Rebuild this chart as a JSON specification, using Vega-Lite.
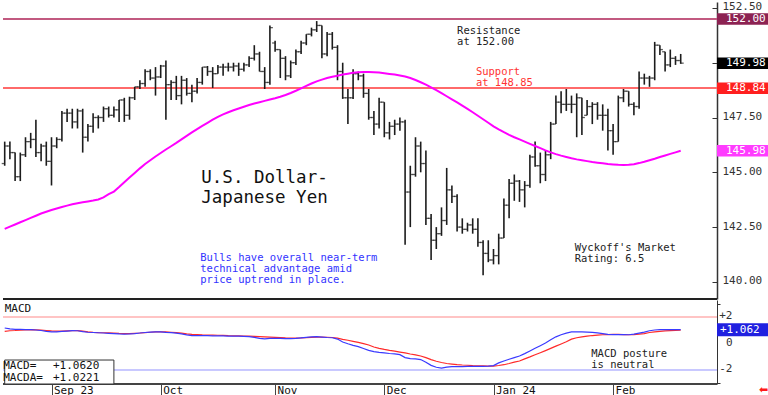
{
  "$schema": "https://vega.github.io/schema/vega-lite/v6.json",
  "padding": 0,
  "spacing": 0,
  "background": "white",
  "config": {"view": {"stroke": null}, "font": "DejaVu Sans Mono"},
  "datasets": {
    "px": [
      {"date":"2023-08-21","open":145.4,"high":146.4,"low":145.3,"close":146.2,"ma":142.42,"macd":1.19,"signal":0.94},
      {"date":"2023-08-22","open":146.2,"high":146.4,"low":145.6,"close":145.9,"ma":142.52,"macd":1.12,"signal":0.98},
      {"date":"2023-08-23","open":145.9,"high":145.9,"low":144.6,"close":144.8,"ma":142.62,"macd":1.09,"signal":1.0},
      {"date":"2023-08-24","open":144.8,"high":145.9,"low":144.6,"close":145.8,"ma":142.72,"macd":1.08,"signal":1.03},
      {"date":"2023-08-25","open":145.8,"high":146.6,"low":145.7,"close":146.4,"ma":142.82,"macd":1.07,"signal":1.05},
      {"date":"2023-08-28","open":146.4,"high":146.8,"low":146.1,"close":146.5,"ma":142.92,"macd":1.06,"signal":1.06},
      {"date":"2023-08-29","open":146.5,"high":147.4,"low":145.7,"close":145.9,"ma":143.02,"macd":1.04,"signal":1.05},
      {"date":"2023-08-30","open":145.9,"high":146.3,"low":145.5,"close":146.2,"ma":143.12,"macd":1.0,"signal":1.03},
      {"date":"2023-08-31","open":146.2,"high":146.4,"low":145.3,"close":145.5,"ma":143.2,"macd":0.94,"signal":1.0},
      {"date":"2023-09-01","open":145.5,"high":146.6,"low":144.4,"close":146.2,"ma":143.28,"macd":0.89,"signal":0.97},
      {"date":"2023-09-04","open":146.2,"high":146.6,"low":146.1,"close":146.5,"ma":143.35,"macd":0.9,"signal":0.96},
      {"date":"2023-09-05","open":146.5,"high":147.8,"low":146.4,"close":147.7,"ma":143.42,"macd":0.93,"signal":0.96},
      {"date":"2023-09-06","open":147.7,"high":147.9,"low":147.3,"close":147.7,"ma":143.48,"macd":0.96,"signal":0.97},
      {"date":"2023-09-07","open":147.7,"high":147.9,"low":147.0,"close":147.3,"ma":143.54,"macd":0.99,"signal":0.98},
      {"date":"2023-09-08","open":147.3,"high":147.9,"low":147.0,"close":147.8,"ma":143.59,"macd":0.98,"signal":0.99},
      {"date":"2023-09-11","open":147.8,"high":147.9,"low":145.9,"close":146.6,"ma":143.63,"macd":0.92,"signal":0.96},
      {"date":"2023-09-12","open":146.6,"high":147.2,"low":146.4,"close":147.1,"ma":143.67,"macd":0.87,"signal":0.9},
      {"date":"2023-09-13","open":147.1,"high":147.7,"low":146.8,"close":147.5,"ma":143.71,"macd":0.85,"signal":0.86},
      {"date":"2023-09-14","open":147.5,"high":147.6,"low":147.0,"close":147.5,"ma":143.76,"macd":0.83,"signal":0.84},
      {"date":"2023-09-15","open":147.5,"high":148.0,"low":147.3,"close":147.9,"ma":143.86,"macd":0.81,"signal":0.83},
      {"date":"2023-09-18","open":147.9,"high":148.0,"low":147.5,"close":147.6,"ma":144.0,"macd":0.79,"signal":0.82},
      {"date":"2023-09-19","open":147.6,"high":148.0,"low":147.5,"close":147.85,"ma":144.12,"macd":0.77,"signal":0.8},
      {"date":"2023-09-20","open":147.85,"high":148.3,"low":147.3,"close":148.3,"ma":144.33,"macd":0.74,"signal":0.78},
      {"date":"2023-09-21","open":148.3,"high":148.4,"low":147.3,"close":147.6,"ma":144.55,"macd":0.73,"signal":0.77},
      {"date":"2023-09-22","open":147.6,"high":148.45,"low":147.4,"close":148.4,"ma":144.76,"macd":0.74,"signal":0.77},
      {"date":"2023-09-25","open":148.4,"high":148.9,"low":148.3,"close":148.9,"ma":144.97,"macd":0.77,"signal":0.79},
      {"date":"2023-09-26","open":148.9,"high":149.2,"low":148.8,"close":149.05,"ma":145.18,"macd":0.81,"signal":0.81},
      {"date":"2023-09-27","open":149.05,"high":149.7,"low":148.9,"close":149.6,"ma":145.38,"macd":0.85,"signal":0.84},
      {"date":"2023-09-28","open":149.6,"high":149.7,"low":149.2,"close":149.3,"ma":145.55,"macd":0.88,"signal":0.87},
      {"date":"2023-09-29","open":149.3,"high":149.8,"low":148.5,"close":149.35,"ma":145.72,"macd":0.89,"signal":0.89},
      {"date":"2023-10-02","open":149.35,"high":149.9,"low":149.3,"close":149.85,"ma":145.88,"macd":0.89,"signal":0.9},
      {"date":"2023-10-03","open":149.85,"high":150.1,"low":147.4,"close":149.0,"ma":146.04,"macd":0.86,"signal":0.89},
      {"date":"2023-10-04","open":149.0,"high":149.2,"low":148.3,"close":149.1,"ma":146.19,"macd":0.84,"signal":0.87},
      {"date":"2023-10-05","open":149.1,"high":149.4,"low":148.3,"close":148.5,"ma":146.34,"macd":0.8,"signal":0.84},
      {"date":"2023-10-06","open":148.5,"high":149.4,"low":148.1,"close":149.2,"ma":146.5,"macd":0.74,"signal":0.8},
      {"date":"2023-10-09","open":149.2,"high":149.3,"low":148.5,"close":148.6,"ma":146.66,"macd":0.67,"signal":0.75},
      {"date":"2023-10-10","open":148.6,"high":149.0,"low":148.2,"close":148.7,"ma":146.82,"macd":0.62,"signal":0.71},
      {"date":"2023-10-11","open":148.7,"high":149.3,"low":148.6,"close":149.1,"ma":146.97,"macd":0.61,"signal":0.69},
      {"date":"2023-10-12","open":149.1,"high":149.8,"low":149.0,"close":149.8,"ma":147.12,"macd":0.61,"signal":0.67},
      {"date":"2023-10-13","open":149.8,"high":149.85,"low":149.4,"close":149.6,"ma":147.26,"macd":0.61,"signal":0.66},
      {"date":"2023-10-16","open":149.6,"high":149.8,"low":148.85,"close":149.5,"ma":147.4,"macd":0.6,"signal":0.65},
      {"date":"2023-10-17","open":149.5,"high":149.9,"low":149.5,"close":149.8,"ma":147.53,"macd":0.6,"signal":0.64},
      {"date":"2023-10-18","open":149.8,"high":149.95,"low":149.4,"close":149.8,"ma":147.64,"macd":0.59,"signal":0.63},
      {"date":"2023-10-19","open":149.8,"high":150.0,"low":149.6,"close":149.8,"ma":147.74,"macd":0.58,"signal":0.61},
      {"date":"2023-10-20","open":149.8,"high":150.0,"low":149.6,"close":149.85,"ma":147.83,"macd":0.58,"signal":0.6},
      {"date":"2023-10-23","open":149.85,"high":150.0,"low":149.4,"close":149.7,"ma":147.91,"macd":0.57,"signal":0.59},
      {"date":"2023-10-24","open":149.7,"high":150.0,"low":149.6,"close":149.9,"ma":147.99,"macd":0.55,"signal":0.58},
      {"date":"2023-10-25","open":149.9,"high":150.3,"low":149.8,"close":150.2,"ma":148.07,"macd":0.53,"signal":0.57},
      {"date":"2023-10-26","open":150.2,"high":150.8,"low":150.1,"close":150.4,"ma":148.14,"macd":0.48,"signal":0.56},
      {"date":"2023-10-27","open":150.4,"high":150.5,"low":149.6,"close":149.6,"ma":148.2,"macd":0.4,"signal":0.54},
      {"date":"2023-10-30","open":149.6,"high":149.8,"low":148.8,"close":149.1,"ma":148.26,"macd":0.36,"signal":0.52},
      {"date":"2023-10-31","open":149.1,"high":151.7,"low":149.0,"close":151.6,"ma":148.32,"macd":0.4,"signal":0.5},
      {"date":"2023-11-01","open":150.9,"high":151.0,"low":150.5,"close":150.6,"ma":148.38,"macd":0.41,"signal":0.48},
      {"date":"2023-11-02","open":150.6,"high":150.6,"low":149.3,"close":150.2,"ma":148.45,"macd":0.4,"signal":0.46},
      {"date":"2023-11-03","open":150.2,"high":150.3,"low":149.2,"close":149.4,"ma":148.53,"macd":0.38,"signal":0.44},
      {"date":"2023-11-06","open":149.4,"high":150.1,"low":149.3,"close":150.0,"ma":148.62,"macd":0.38,"signal":0.43},
      {"date":"2023-11-07","open":150.0,"high":150.6,"low":149.9,"close":150.5,"ma":148.72,"macd":0.4,"signal":0.43},
      {"date":"2023-11-08","open":150.5,"high":151.0,"low":150.4,"close":150.9,"ma":148.83,"macd":0.44,"signal":0.44},
      {"date":"2023-11-09","open":150.9,"high":151.3,"low":150.8,"close":151.3,"ma":148.94,"macd":0.48,"signal":0.46},
      {"date":"2023-11-10","open":151.3,"high":151.6,"low":151.2,"close":151.5,"ma":149.05,"macd":0.52,"signal":0.48},
      {"date":"2023-11-13","open":151.5,"high":151.9,"low":151.4,"close":151.7,"ma":149.15,"macd":0.53,"signal":0.5},
      {"date":"2023-11-14","open":151.7,"high":151.7,"low":150.2,"close":150.4,"ma":149.23,"macd":0.5,"signal":0.5},
      {"date":"2023-11-15","open":150.4,"high":151.4,"low":150.3,"close":151.3,"ma":149.3,"macd":0.47,"signal":0.49},
      {"date":"2023-11-16","open":151.3,"high":151.4,"low":150.6,"close":150.7,"ma":149.36,"macd":0.45,"signal":0.47},
      {"date":"2023-11-17","open":150.7,"high":150.8,"low":149.2,"close":149.6,"ma":149.41,"macd":0.35,"signal":0.42},
      {"date":"2023-11-20","open":149.6,"high":150.0,"low":148.35,"close":148.4,"ma":149.46,"macd":0.13,"signal":0.33},
      {"date":"2023-11-21","open":148.4,"high":148.8,"low":147.2,"close":148.4,"ma":149.5,"macd":0.0,"signal":0.26},
      {"date":"2023-11-22","open":148.4,"high":149.7,"low":148.35,"close":149.5,"ma":149.54,"macd":-0.12,"signal":0.18},
      {"date":"2023-11-24","open":149.5,"high":149.6,"low":149.2,"close":149.4,"ma":149.57,"macd":-0.22,"signal":0.1},
      {"date":"2023-11-27","open":149.4,"high":149.5,"low":148.4,"close":148.6,"ma":149.58,"macd":-0.36,"signal":0.01},
      {"date":"2023-11-28","open":148.6,"high":148.8,"low":147.4,"close":147.5,"ma":149.58,"macd":-0.5,"signal":-0.1},
      {"date":"2023-11-29","open":147.5,"high":147.8,"low":146.7,"close":147.2,"ma":149.57,"macd":-0.6,"signal":-0.25},
      {"date":"2023-11-30","open":147.2,"high":148.4,"low":147.0,"close":148.2,"ma":149.55,"macd":-0.66,"signal":-0.35},
      {"date":"2023-12-01","open":148.2,"high":148.2,"low":146.6,"close":146.8,"ma":149.52,"macd":-0.7,"signal":-0.43},
      {"date":"2023-12-04","open":146.8,"high":147.3,"low":146.5,"close":147.1,"ma":149.49,"macd":-0.74,"signal":-0.5},
      {"date":"2023-12-05","open":147.1,"high":147.4,"low":146.7,"close":147.2,"ma":149.46,"macd":-0.77,"signal":-0.56},
      {"date":"2023-12-06","open":147.2,"high":147.5,"low":146.9,"close":147.3,"ma":149.42,"macd":-0.83,"signal":-0.63},
      {"date":"2023-12-07","open":147.3,"high":147.4,"low":141.7,"close":144.1,"ma":149.37,"macd":-1.05,"signal":-0.7},
      {"date":"2023-12-08","open":144.1,"high":145.3,"low":142.5,"close":144.9,"ma":149.3,"macd":-1.13,"signal":-0.78},
      {"date":"2023-12-11","open":144.9,"high":146.6,"low":144.8,"close":146.2,"ma":149.21,"macd":-1.15,"signal":-0.84},
      {"date":"2023-12-12","open":146.2,"high":146.4,"low":145.0,"close":145.4,"ma":149.11,"macd":-1.2,"signal":-0.93},
      {"date":"2023-12-13","open":145.4,"high":146.0,"low":142.6,"close":142.9,"ma":149.0,"macd":-1.4,"signal":-1.05},
      {"date":"2023-12-14","open":142.9,"high":143.1,"low":141.0,"close":141.9,"ma":148.88,"macd":-1.64,"signal":-1.2},
      {"date":"2023-12-15","open":141.9,"high":142.5,"low":141.5,"close":142.2,"ma":148.75,"macd":-1.78,"signal":-1.33},
      {"date":"2023-12-18","open":142.2,"high":143.4,"low":142.1,"close":142.8,"ma":148.61,"macd":-1.84,"signal":-1.42},
      {"date":"2023-12-19","open":142.8,"high":145.2,"low":142.6,"close":144.2,"ma":148.47,"macd":-1.77,"signal":-1.5},
      {"date":"2023-12-20","open":144.2,"high":144.4,"low":143.6,"close":143.9,"ma":148.33,"macd":-1.74,"signal":-1.54},
      {"date":"2023-12-21","open":143.9,"high":144.0,"low":142.3,"close":142.5,"ma":148.19,"macd":-1.73,"signal":-1.58},
      {"date":"2023-12-22","open":142.5,"high":142.9,"low":142.2,"close":142.4,"ma":148.04,"macd":-1.73,"signal":-1.61},
      {"date":"2023-12-25","open":142.4,"high":142.7,"low":142.3,"close":142.6,"ma":147.89,"macd":-1.72,"signal":-1.63},
      {"date":"2023-12-26","open":142.6,"high":142.9,"low":142.2,"close":142.4,"ma":147.74,"macd":-1.72,"signal":-1.66},
      {"date":"2023-12-27","open":142.4,"high":142.9,"low":141.6,"close":141.8,"ma":147.58,"macd":-1.71,"signal":-1.67},
      {"date":"2023-12-28","open":141.8,"high":141.9,"low":140.3,"close":141.3,"ma":147.42,"macd":-1.71,"signal":-1.68},
      {"date":"2023-12-29","open":141.3,"high":141.9,"low":140.9,"close":141.0,"ma":147.26,"macd":-1.7,"signal":-1.69},
      {"date":"2024-01-01","open":141.0,"high":141.5,"low":140.8,"close":141.2,"ma":147.1,"macd":-1.66,"signal":-1.69},
      {"date":"2024-01-02","open":141.2,"high":142.2,"low":140.8,"close":142.0,"ma":146.96,"macd":-1.45,"signal":-1.65},
      {"date":"2024-01-03","open":142.0,"high":143.8,"low":142.0,"close":143.5,"ma":146.83,"macd":-1.31,"signal":-1.59},
      {"date":"2024-01-04","open":143.5,"high":144.7,"low":142.9,"close":144.5,"ma":146.71,"macd":-1.18,"signal":-1.5},
      {"date":"2024-01-05","open":144.5,"high":144.9,"low":143.7,"close":144.6,"ma":146.6,"macd":-1.05,"signal":-1.4},
      {"date":"2024-01-08","open":144.6,"high":144.65,"low":143.65,"close":144.2,"ma":146.5,"macd":-0.93,"signal":-1.31},
      {"date":"2024-01-09","open":144.2,"high":144.6,"low":143.4,"close":144.4,"ma":146.4,"macd":-0.75,"signal":-1.15},
      {"date":"2024-01-10","open":144.4,"high":145.8,"low":144.3,"close":145.7,"ma":146.3,"macd":-0.55,"signal":-1.0},
      {"date":"2024-01-11","open":145.7,"high":146.4,"low":145.25,"close":145.3,"ma":146.2,"macd":-0.35,"signal":-0.84},
      {"date":"2024-01-12","open":145.3,"high":145.9,"low":144.5,"close":144.9,"ma":146.1,"macd":-0.15,"signal":-0.68},
      {"date":"2024-01-15","open":144.9,"high":146.0,"low":144.6,"close":145.8,"ma":146.0,"macd":0.05,"signal":-0.52},
      {"date":"2024-01-16","open":145.8,"high":147.3,"low":145.6,"close":147.2,"ma":145.91,"macd":0.3,"signal":-0.35},
      {"date":"2024-01-17","open":147.2,"high":148.5,"low":147.2,"close":148.2,"ma":145.83,"macd":0.52,"signal":-0.18},
      {"date":"2024-01-18","open":148.2,"high":148.7,"low":147.7,"close":148.1,"ma":145.76,"macd":0.68,"signal":-0.02},
      {"date":"2024-01-19","open":148.1,"high":148.8,"low":147.8,"close":148.1,"ma":145.7,"macd":0.8,"signal":0.15},
      {"date":"2024-01-22","open":148.1,"high":148.5,"low":147.7,"close":148.1,"ma":145.64,"macd":0.89,"signal":0.35},
      {"date":"2024-01-23","open":148.1,"high":148.6,"low":146.6,"close":148.4,"ma":145.59,"macd":0.9,"signal":0.45},
      {"date":"2024-01-24","open":148.4,"high":148.4,"low":146.7,"close":147.5,"ma":145.55,"macd":0.9,"signal":0.52},
      {"date":"2024-01-25","open":147.6,"high":148.3,"low":147.6,"close":148.0,"ma":145.51,"macd":0.88,"signal":0.58},
      {"date":"2024-01-26","open":148.0,"high":148.2,"low":147.2,"close":148.1,"ma":145.47,"macd":0.86,"signal":0.62},
      {"date":"2024-01-29","open":148.1,"high":148.2,"low":147.4,"close":147.6,"ma":145.44,"macd":0.82,"signal":0.65},
      {"date":"2024-01-30","open":147.6,"high":148.1,"low":146.9,"close":147.6,"ma":145.41,"macd":0.77,"signal":0.68},
      {"date":"2024-01-31","open":147.6,"high":147.9,"low":146.0,"close":146.9,"ma":145.38,"macd":0.71,"signal":0.69},
      {"date":"2024-02-01","open":146.9,"high":147.2,"low":145.8,"close":146.4,"ma":145.36,"macd":0.69,"signal":0.7},
      {"date":"2024-02-02","open":146.4,"high":148.5,"low":146.4,"close":148.4,"ma":145.34,"macd":0.69,"signal":0.7},
      {"date":"2024-02-05","open":148.4,"high":148.8,"low":148.2,"close":148.7,"ma":145.33,"macd":0.69,"signal":0.69},
      {"date":"2024-02-06","open":148.7,"high":148.7,"low":148.0,"close":148.1,"ma":145.34,"macd":0.68,"signal":0.68},
      {"date":"2024-02-07","open":148.1,"high":148.2,"low":147.6,"close":148.0,"ma":145.37,"macd":0.72,"signal":0.69},
      {"date":"2024-02-08","open":148.0,"high":149.6,"low":147.9,"close":149.3,"ma":145.42,"macd":0.8,"signal":0.72},
      {"date":"2024-02-09","open":149.3,"high":149.5,"low":149.0,"close":149.3,"ma":145.48,"macd":0.88,"signal":0.77},
      {"date":"2024-02-12","open":149.3,"high":149.4,"low":148.9,"close":149.3,"ma":145.55,"macd":0.98,"signal":0.85},
      {"date":"2024-02-13","open":149.3,"high":150.95,"low":149.2,"close":150.8,"ma":145.62,"macd":1.04,"signal":0.9},
      {"date":"2024-02-14","open":150.8,"high":150.8,"low":150.35,"close":150.6,"ma":145.7,"macd":1.06,"signal":0.94},
      {"date":"2024-02-15","open":150.5,"high":150.5,"low":149.6,"close":149.9,"ma":145.77,"macd":1.06,"signal":0.97},
      {"date":"2024-02-16","open":149.9,"high":150.6,"low":149.8,"close":150.2,"ma":145.84,"macd":1.07,"signal":0.99},
      {"date":"2024-02-19","open":150.2,"high":150.3,"low":149.9,"close":150.1,"ma":145.91,"macd":1.06,"signal":1.01},
      {"date":"2024-02-20","open":150.1,"high":150.4,"low":149.95,"close":149.98,"ma":145.98,"macd":1.062,"signal":1.022}
    ],
    "tags": [
      {"kind":"Resistance","value":152.0,"label":"152.00"},
      {"kind":"Close","value":149.98,"label":"149.98"},
      {"kind":"Support","value":148.84,"label":"148.84"},
      {"kind":"MA","value":145.98,"label":"145.98"}
    ]
  },
  "vconcat": [
    {
      "width": 714,
      "height": 297,
      "data": {"name": "px"},
      "layer": [
        {
          "mark": {"type": "rule", "color": "#c25a80", "strokeWidth": 1.2},
          "encoding": {"y": {"datum": 152.0, "type": "quantitative", "scale": {"domain": [139.22, 152.77], "nice": false, "zero": false},
            "axis": {"orient": "right", "values": [140, 142.5, 145, 147.5, 150, 152.5],
              "labelExpr": "datum.value == 150 ? '' : format(datum.value, '.2f')", "labelOverlap": false,
              "title": null, "grid": false, "labelOffset": -1,
              "domainColor": "#333", "domainWidth": 1.5, "tickColor": "#333", "tickSize": -5, "labelPadding": 10,
              "labelFont": "DejaVu Sans Mono", "labelFontSize": 11, "labelColor": "#333"}}}
        },
        {
          "mark": {"type": "rule", "color": "#ff6a6a", "strokeWidth": 1.5},
          "encoding": {"y": {"datum": 148.84, "type": "quantitative"}}
        },
        {
          "mark": {"type": "rule", "color": "#222", "strokeWidth": 2},
          "encoding": {"y": {"datum": 139.22, "type": "quantitative"}}
        },
        {
          "mark": {"type": "rule", "color": "#1c1c1c", "strokeWidth": 1.6},
          "encoding": {
            "x": {"field": "date", "type": "ordinal", "scale": {"type": "point", "padding": 0, "range": [1.7, 677.7]}, "axis": null},
            "y": {"field": "low", "type": "quantitative"},
            "y2": {"field": "high"}
          }
        },
        {
          "mark": {"type": "tick", "orient": "horizontal", "size": 3, "thickness": 1.3, "xOffset": -1.5, "color": "#1c1c1c"},
          "encoding": {"x": {"field": "date", "type": "ordinal"}, "y": {"field": "open", "type": "quantitative"}}
        },
        {
          "mark": {"type": "tick", "orient": "horizontal", "size": 3, "thickness": 1.3, "xOffset": 1.5, "color": "#1c1c1c"},
          "encoding": {"x": {"field": "date", "type": "ordinal"}, "y": {"field": "close", "type": "quantitative"}}
        },
        {
          "mark": {"type": "line", "color": "#ff00ff", "strokeWidth": 2},
          "encoding": {"x": {"field": "date", "type": "ordinal"}, "y": {"field": "ma", "type": "quantitative"}}
        },
        {
          "data": {"name": "tags"},
          "mark": {"type": "rule", "strokeWidth": 11.5, "x2Offset": 54},
          "encoding": {
            "x": {"value": "width"}, "x2": {"value": "width"},
            "y": {"field": "value", "type": "quantitative"},
            "color": {"field": "kind", "type": "nominal", "scale": {"domain": ["Resistance", "Close", "Support", "MA"], "range": ["#8c2252", "#000000", "#ff1f1f", "#ff3cff"]}, "legend": null}
          }
        },
        {
          "data": {"name": "tags"},
          "mark": {"type": "text", "align": "left", "baseline": "middle", "dx": 9, "color": "white", "font": "DejaVu Sans Mono", "fontSize": 11},
          "encoding": {"x": {"value": "width"}, "y": {"field": "value", "type": "quantitative"}, "text": {"field": "label"}}
        },
        {
          "data": {"values": [{"date": "2023-10-12", "price": 145.15, "note": "U.S. Dollar-\nJapanese Yen"}]},
          "mark": {"type": "text", "align": "left", "baseline": "top", "dx": -1, "lineBreak": "\n", "lineHeight": 20, "font": "DejaVu Sans Mono", "fontSize": 17.5, "color": "#111"},
          "encoding": {"x": {"field": "date", "type": "ordinal"}, "y": {"field": "price", "type": "quantitative"}, "text": {"field": "note"}}
        },
        {
          "data": {"values": [{"date": "2023-12-21", "price": 151.66, "note": "Resistance\nat 152.00"}]},
          "mark": {"type": "text", "align": "left", "baseline": "top", "lineBreak": "\n", "lineHeight": 11, "font": "DejaVu Sans Mono", "fontSize": 10.5, "color": "#222"},
          "encoding": {"x": {"field": "date", "type": "ordinal"}, "y": {"field": "price", "type": "quantitative"}, "text": {"field": "note"}}
        },
        {
          "data": {"values": [{"date": "2023-12-27", "price": 149.79, "note": "Support\nat 148.85"}]},
          "mark": {"type": "text", "align": "left", "baseline": "top", "dx": -2, "lineBreak": "\n", "lineHeight": 11, "font": "DejaVu Sans Mono", "fontSize": 10.5, "color": "#ff3333"},
          "encoding": {"x": {"field": "date", "type": "ordinal"}, "y": {"field": "price", "type": "quantitative"}, "text": {"field": "note"}}
        },
        {
          "data": {"values": [{"date": "2023-10-12", "price": 141.3, "note": "Bulls have overall near-term\ntechnical advantage amid\nprice uptrend in place."}]},
          "mark": {"type": "text", "align": "left", "baseline": "top", "dx": -2, "lineBreak": "\n", "lineHeight": 10.8, "font": "DejaVu Sans Mono", "fontSize": 10.5, "color": "#3333ff"},
          "encoding": {"x": {"field": "date", "type": "ordinal"}, "y": {"field": "price", "type": "quantitative"}, "text": {"field": "note"}}
        },
        {
          "data": {"values": [{"date": "2024-01-23", "price": 141.76, "note": "Wyckoff's Market\nRating: 6.5"}]},
          "mark": {"type": "text", "align": "left", "baseline": "top", "dx": -2, "lineBreak": "\n", "lineHeight": 11, "font": "DejaVu Sans Mono", "fontSize": 10.5, "color": "#222"},
          "encoding": {"x": {"field": "date", "type": "ordinal"}, "y": {"field": "price", "type": "quantitative"}, "text": {"field": "note"}}
        }
      ]
    },
    {
      "width": 714,
      "height": 84,
      "data": {"name": "px"},
      "layer": [
        {
          "mark": {"type": "rule", "color": "#ffc4c4", "strokeWidth": 1.2},
          "encoding": {"y": {"datum": 2, "type": "quantitative", "scale": {"domain": [-3.05, 3.31], "nice": false, "zero": false},
            "axis": {"orient": "right", "values": [-3, -2.5, -2, -1.5, -1, -0.5, 0, 0.5, 1, 1.5, 2, 2.5, 3],
              "labels": false, "title": null, "grid": false, "tickSize": 3,
              "domainColor": "#333", "tickColor": "#333"}}}
        },
        {
          "mark": {"type": "rule", "color": "#c8c8ff", "strokeWidth": 1.2},
          "encoding": {"y": {"datum": -2, "type": "quantitative"}}
        },
        {
          "mark": {"type": "rule", "color": "#444", "strokeWidth": 1},
          "encoding": {"y": {"datum": -3.05, "type": "quantitative"}}
        },
        {
          "mark": {"type": "line", "color": "#ff2a2a", "strokeWidth": 1.2},
          "encoding": {
            "x": {"field": "date", "type": "ordinal", "scale": {"type": "point", "padding": 0, "range": [1.7, 677.7]},
              "axis": {"title": null, "domain": false, "values": ["2023-09-01", "2023-10-02", "2023-11-01", "2023-12-01", "2024-01-01", "2024-02-01"],
                "labelExpr": "datum.value == '2023-09-01' ? 'Sep 23' : datum.value == '2023-10-02' ? 'Oct' : datum.value == '2023-11-01' ? 'Nov' : datum.value == '2023-12-01' ? 'Dec' : datum.value == '2024-01-01' ? 'Jan 24' : 'Feb'",
                "labelOverlap": false,
                "tickSize": 13, "labelAlign": "left", "labelBaseline": "top", "labelPadding": -13, "labelOffset": 2, "labelAngle": 0,
                "labelFont": "DejaVu Sans Mono", "labelFontSize": 11, "labelColor": "#111", "tickColor": "#444"}},
            "y": {"field": "signal", "type": "quantitative"}
          }
        },
        {
          "mark": {"type": "line", "color": "#3a3aff", "strokeWidth": 1.2},
          "encoding": {"x": {"field": "date", "type": "ordinal"}, "y": {"field": "macd", "type": "quantitative"}}
        },
        {
          "data": {"values": [{"start": "2023-08-21", "end": "2023-09-19", "top": -1.235, "bottom": -3.05}]},
          "mark": {"type": "rect", "fill": "white", "stroke": "#333", "strokeWidth": 1},
          "encoding": {"x": {"field": "start", "type": "ordinal"}, "x2": {"field": "end"}, "y": {"field": "top", "type": "quantitative"}, "y2": {"field": "bottom"}}
        },
        {
          "data": {"values": [{"date": "2023-08-21", "v": -1.24, "note": "MACD=\nMACDA="}]},
          "mark": {"type": "text", "align": "left", "baseline": "top", "dx": -1.5, "lineBreak": "\n", "lineHeight": 12, "font": "DejaVu Sans Mono", "fontSize": 11, "color": "#111"},
          "encoding": {"x": {"field": "date", "type": "ordinal"}, "y": {"field": "v", "type": "quantitative"}, "text": {"field": "note"}}
        },
        {
          "data": {"values": [{"date": "2023-09-01", "v": -1.24, "note": "+1.0620\n+1.0221"}]},
          "mark": {"type": "text", "align": "left", "baseline": "top", "dx": 1.5, "lineBreak": "\n", "lineHeight": 12, "font": "DejaVu Sans Mono", "fontSize": 11, "color": "#111"},
          "encoding": {"x": {"field": "date", "type": "ordinal"}, "y": {"field": "v", "type": "quantitative"}, "text": {"field": "note"}}
        },
        {
          "data": {"values": [{"date": "2023-08-21", "v": 3.06, "note": "MACD"}]},
          "mark": {"type": "text", "align": "left", "baseline": "top", "font": "DejaVu Sans Mono", "fontSize": 11, "color": "#111"},
          "encoding": {"x": {"field": "date", "type": "ordinal"}, "y": {"field": "v", "type": "quantitative"}, "text": {"field": "note"}}
        },
        {
          "data": {"values": [{"date": "2024-01-26", "v": -0.4, "note": "MACD posture\nis neutral"}]},
          "mark": {"type": "text", "align": "left", "baseline": "top", "dx": -1, "lineBreak": "\n", "lineHeight": 11, "font": "DejaVu Sans Mono", "fontSize": 10.5, "color": "#222"},
          "encoding": {"x": {"field": "date", "type": "ordinal"}, "y": {"field": "v", "type": "quantitative"}, "text": {"field": "note"}}
        },
        {
          "data": {"values": [{"v": 2, "label": "+2"}, {"v": 0, "label": "0"}, {"v": -2, "label": "-2"}]},
          "mark": {"type": "text", "align": "right", "baseline": "middle", "dx": 15.5, "dy": -1, "color": "#333", "font": "DejaVu Sans Mono", "fontSize": 11},
          "encoding": {"x": {"value": "width"}, "y": {"field": "v", "type": "quantitative"}, "text": {"field": "label"}}
        },
        {
          "data": {"values": [{"value": 1.062, "label": "+1.062"}]},
          "mark": {"type": "rule", "strokeWidth": 13, "x2Offset": 54, "color": "#2020e0"},
          "encoding": {"x": {"value": "width"}, "x2": {"value": "width"}, "y": {"field": "value", "type": "quantitative"}}
        },
        {
          "data": {"values": [{"value": 1.062, "label": "+1.062"}]},
          "mark": {"type": "text", "align": "left", "baseline": "middle", "dx": 3, "dy": 0.5, "color": "white", "font": "DejaVu Sans Mono", "fontSize": 11},
          "encoding": {"x": {"value": "width"}, "y": {"field": "value", "type": "quantitative"}, "text": {"field": "label"}}
        },
        {
          "data": {"values": [{"v": -3.05, "arrow": "⬅"}]},
          "mark": {"type": "text", "align": "left", "baseline": "middle", "dx": 42, "dy": 6, "color": "#ff1a1a", "font": "DejaVu Sans", "fontSize": 11},
          "encoding": {"x": {"value": "width"}, "y": {"field": "v", "type": "quantitative"}, "text": {"field": "arrow"}}
        }
      ]
    }
  ]
}
